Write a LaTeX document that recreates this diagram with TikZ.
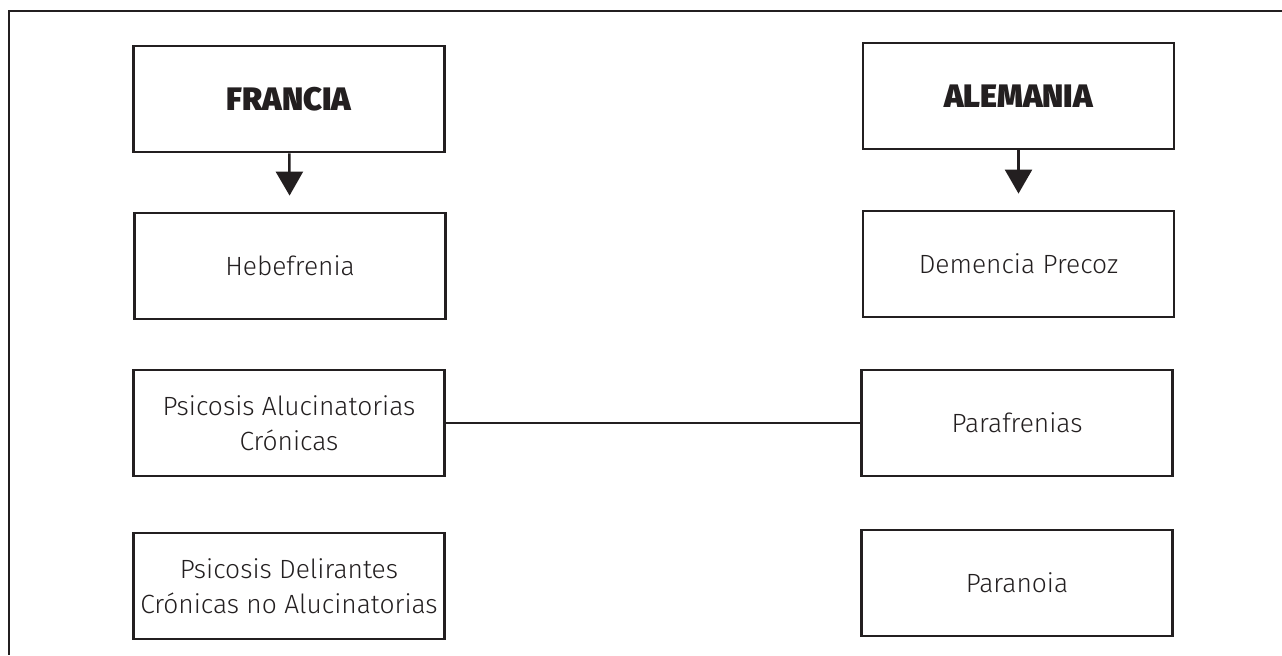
\documentclass[tikz,border=0pt]{standalone}
\usepackage{fontspec}
\setmainfont{Fira Sans}[UprightFont=* Light, BoldFont=* Black]
\usetikzlibrary{arrows.meta}
\definecolor{ink}{HTML}{231F20}

\begin{document}
\begin{tikzpicture}[
		box/.style={draw=ink, line width=1.6pt, minimum width=6.22cm, minimum height=2.12cm, inner xsep=2pt, align=center, text=ink, font=\fontsize{15}{20}\selectfont},
		head/.style={box, font=\fontsize{18.5}{22}\selectfont\bfseries},
		flecha/.style={draw=ink, line width=1.4pt, shorten >=0.32cm, -{Triangle[width=0.54cm,length=0.48cm]}}
	]
			\useasboundingbox (0,0) rectangle (25.64,-13.1);
			\draw [ink, line width=1.1pt] (25.64,-0.22) -- (0.18,-0.22) -- (0.18,-13.1);
			\node [head] (francia) at (5.78,-1.98) {FRANCIA};
			\node [box] (hebe) at (5.80,-5.32) {Hebefrenia};
			\node [box] (pac) at (5.78,-8.46) {Psicosis Alucinatorias\\Crónicas};
			\node [box] (pdc) at (5.78,-11.72) {Psicosis Delirantes\\Crónicas no Alucinatorias};
			\node [head] (alemania) at (20.37,-1.92) {ALEMANIA};
			\node [box] (demencia) at (20.37,-5.28) {Demencia Precoz};
			\node [box] (para) at (20.34,-8.46) {Parafrenias};
			\node [box] (paranoia) at (20.34,-11.66) {Paranoia};
			\draw [flecha] (francia) -- (hebe);
			\draw [flecha] (alemania) -- (demencia);
			\draw [ink, line width=1.1pt] (pac) -- (para);
		\end{tikzpicture}
\end{document}
